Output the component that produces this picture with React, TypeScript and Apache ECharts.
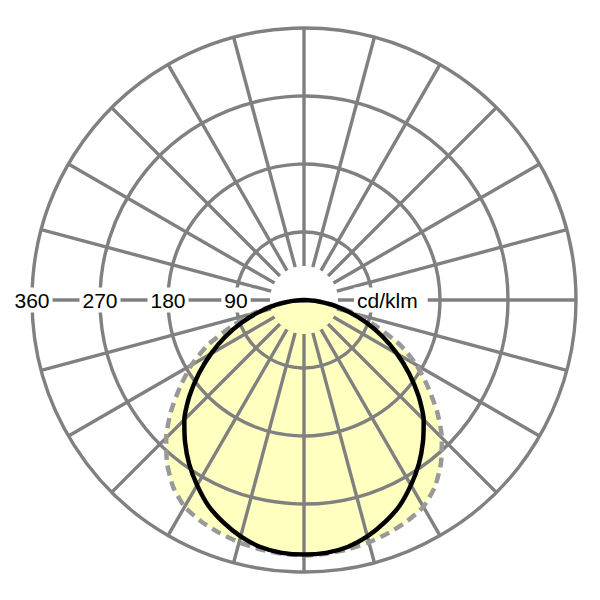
import { useEffect, useRef } from 'react';
import * as echarts from 'echarts';

// gamma = angle from nadir (deg), symmetric on both sides
const GAMMA = [0, 5, 10, 15, 20, 25, 30, 35, 40, 45, 50, 55, 60, 65, 70, 75, 80, 85, 90];
// C0-C180 plane (solid black), cd/klm
const C0_C180 = [337, 336, 332, 324, 313, 300, 283, 265, 245, 224, 198, 170, 142, 115, 88, 62, 38, 17, 0];
// C90-C270 plane (dashed grey), cd/klm
const C90_C270 = [338, 337, 335, 332, 328, 323, 316, 302, 282, 258, 230, 200, 172, 140, 102, 70, 42, 18, 0];

const RADIUS_MAX = 360;
const RADIUS_STEP = 90;
const SPOKE_STEP = 15;
const UNIT = 'cd/klm';

const GRID = '#808080';
const FILL = '#ffffc0';
const FONT = '"Liberation Sans", Arial, Helvetica, sans-serif';

// polar angle: 0 = left horizontal, 90 = nadir, 180 = right horizontal
const toPolar = (values: number[]) => {
  const pts: number[][] = [];
  for (let i = GAMMA.length - 1; i >= 0; i--) pts.push([values[i], 90 - GAMMA[i]]);
  for (let i = 1; i < GAMMA.length; i++) pts.push([values[i], 90 + GAMMA[i]]);
  return pts;
};

export default function App() {
  const ref = useRef<HTMLDivElement>(null);

  useEffect(() => {
    if (!ref.current) return;
    const chart = echarts.init(ref.current, null, { renderer: 'svg' });

    const center = [304, 300];
    const outer = 272;

    const option: any = {
      animation: false,
      backgroundColor: '#fff',
      polar: [
        { center, radius: [0, outer] },
        { center, radius: [34, outer] },
      ],
      angleAxis: [
        { polarIndex: 0, type: 'value', min: 0, max: 360, startAngle: 180, clockwise: false, show: false },
        {
          polarIndex: 1, type: 'value', min: 0, max: 360, interval: SPOKE_STEP, startAngle: 0, z: 5,
          axisLine: { show: false }, axisTick: { show: false }, axisLabel: { show: false },
          splitLine: { show: true, lineStyle: { color: GRID, width: 3.4 } },
        },
      ],
      radiusAxis: [
        {
          polarIndex: 0, type: 'value', min: 0, max: RADIUS_MAX, interval: RADIUS_STEP, z: 6,
          axisLine: { show: false }, axisTick: { show: false },
          splitLine: { show: true, lineStyle: { color: GRID, width: 3.4 } },
          axisLabel: {
            showMinLabel: false, margin: 0, verticalAlign: 'middle', align: 'center',
            backgroundColor: '#fff', padding: [2, 3], color: '#000', fontSize: 21, fontFamily: FONT,
          },
        },
        { polarIndex: 1, type: 'value', min: 0, max: RADIUS_MAX, show: false },
      ],
      series: [
        {
          type: 'line', coordinateSystem: 'polar', polarIndex: 0, data: toPolar(C90_C270),
          symbol: 'none', smooth: 0.2, z: 1, silent: true,
          lineStyle: { width: 0 }, areaStyle: { color: FILL, opacity: 1 },
        },
        {
          type: 'line', coordinateSystem: 'polar', polarIndex: 0, data: toPolar(C90_C270),
          symbol: 'none', smooth: 0.2, z: 10,
          lineStyle: { color: '#999999', width: 4.5, type: [10, 6] },
        },
        {
          type: 'line', coordinateSystem: 'polar', polarIndex: 0, data: toPolar(C0_C180),
          symbol: 'none', smooth: 0.2, z: 11,
          lineStyle: { color: '#000', width: 4.5 },
        },
      ],
    };
    chart.setOption(option);

    // unit label sits on the right horizontal, just past the first ring
    const p = chart.convertToPixel({ seriesIndex: 0 }, [RADIUS_STEP, 180]) as number[];
    if (p) {
      chart.setOption({
        graphic: [{
          type: 'text', x: p[0] - 18, y: p[1], z: 20,
          style: {
            text: UNIT, fill: '#000', font: `21px ${FONT}`, align: 'left', verticalAlign: 'middle',
            backgroundColor: '#fff', padding: [2, 10, 2, 3],
          },
        }],
      });
    }

    return () => chart.dispose();
  }, []);

  return <div ref={ref} style={{ position: 'fixed', left: 0, top: 0, width: 600, height: 600, background: '#fff' }} />;
}
